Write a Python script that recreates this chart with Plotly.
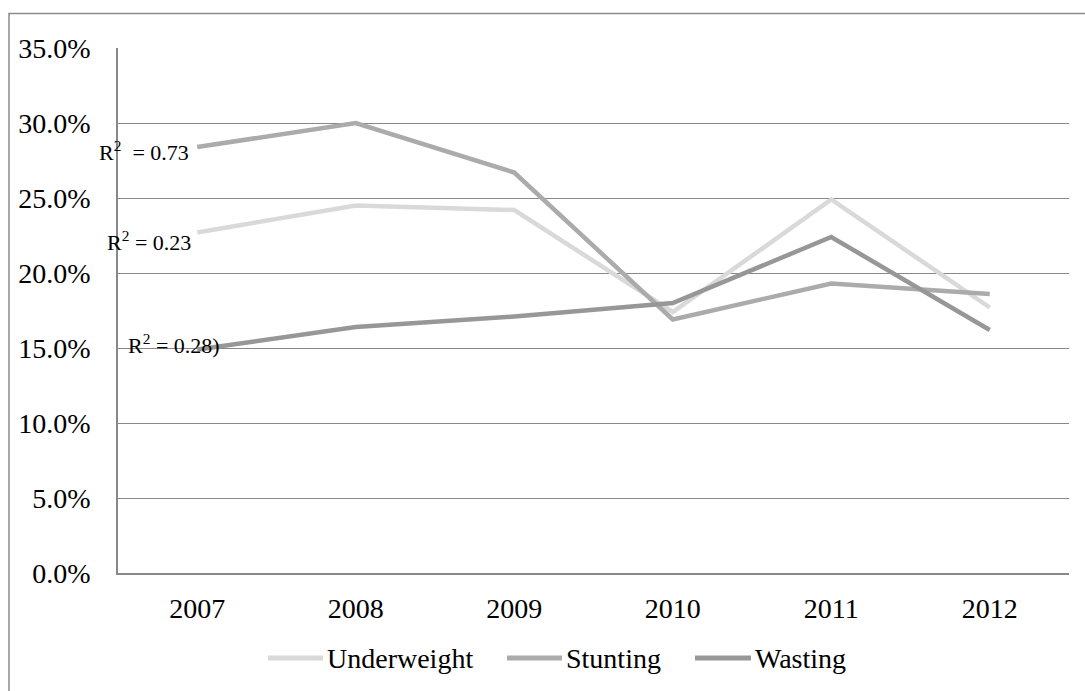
import plotly.graph_objects as go

# Survey years and prevalence (fraction of children)
years = ["2007", "2008", "2009", "2010", "2011", "2012"]
underweight = [0.227, 0.245, 0.242, 0.174, 0.249, 0.177]
stunting = [0.284, 0.300, 0.267, 0.169, 0.193, 0.186]
wasting = [0.149, 0.164, 0.171, 0.180, 0.224, 0.162]

series_names = ["Underweight", "Stunting", "Wasting"]
series_colors = ["#d9d9d9", "#ababab", "#979797"]
r2_labels = ["R<sup>2</sup> = 0.23", "R<sup>2</sup>&nbsp;&nbsp;= 0.73", "R<sup>2</sup> = 0.28)"]

W, H = 1085, 691
ML, MR, MT, MB = 118, 16, 48, 118
FONT = "Liberation Serif"
FS = 28
GRID = "#888888"

pw, ph = W - ML - MR, H - MT - MB
def px_x(p):
    return (p - ML) / pw
def px_y(p):
    return (H - MB - p) / ph

fig = go.Figure()
for name, vals, col in zip(series_names, [underweight, stunting, wasting], series_colors):
    fig.add_trace(go.Scatter(
        x=years, y=vals, name=name, mode="lines",
        line=dict(color=col, width=4.5), showlegend=False,
    ))

# R² annotations next to the first point of each series
label_offsets = [(-4, -8), (-6, -4), (25, 6)]
for vals, text, (dx, dy) in zip([underweight, stunting, wasting], r2_labels, label_offsets):
    fig.add_annotation(
        x=0, y=vals[0], text=text, showarrow=False,
        xanchor="right", yanchor="middle", xshift=dx, yshift=dy,
        font=dict(family=FONT, size=22, color="black"),
    )

# Legend row below the axis: swatch line followed by the series name
legend_y = 658
legend_items = [(268, 323), (507, 562), (695, 751)]
for (x0, x1), name, col in zip(legend_items, series_names, series_colors):
    fig.add_shape(type="line", xref="paper", yref="paper",
                  x0=px_x(x0), x1=px_x(x1), y0=px_y(legend_y), y1=px_y(legend_y),
                  line=dict(color=col, width=5))
    fig.add_annotation(xref="paper", yref="paper", x=px_x(x1 + 2), y=px_y(legend_y),
                       text=name, showarrow=False, xanchor="left", yanchor="middle",
                       font=dict(family=FONT, size=FS, color="black"))

# Outer chart frame (extends past the right and bottom edges)
fig.add_shape(type="rect", xref="paper", yref="paper",
              x0=px_x(9), x1=px_x(W + 60), y0=px_y(H + 60), y1=px_y(13.5),
              line=dict(color="#8a8a8a", width=1.5), fillcolor="rgba(0,0,0,0)", layer="below")

fig.update_layout(
    width=W, height=H,
    margin=dict(l=ML, r=MR, t=MT, b=MB),
    paper_bgcolor="white", plot_bgcolor="white",
    font=dict(family=FONT, size=FS, color="black"),
    showlegend=False,
    xaxis=dict(
        type="category", categoryorder="array", categoryarray=years,
        range=[-0.5, len(years) - 0.5], autorange=False,
        showgrid=False, zeroline=False,
        showline=True, linecolor=GRID, linewidth=1.5,
        ticks="", ticklabelstandoff=10,
        tickfont=dict(family=FONT, size=FS, color="black"),
    ),
    yaxis=dict(
        range=[0, 0.35], dtick=0.05, tickformat=".1%",
        showgrid=True, gridcolor=GRID, gridwidth=1.4,
        zeroline=False, showline=True, linecolor=GRID, linewidth=1.5,
        ticks="", ticklabelstandoff=20,
        tickfont=dict(family=FONT, size=FS, color="black"),
    ),
)

fig.write_html("out.html")
